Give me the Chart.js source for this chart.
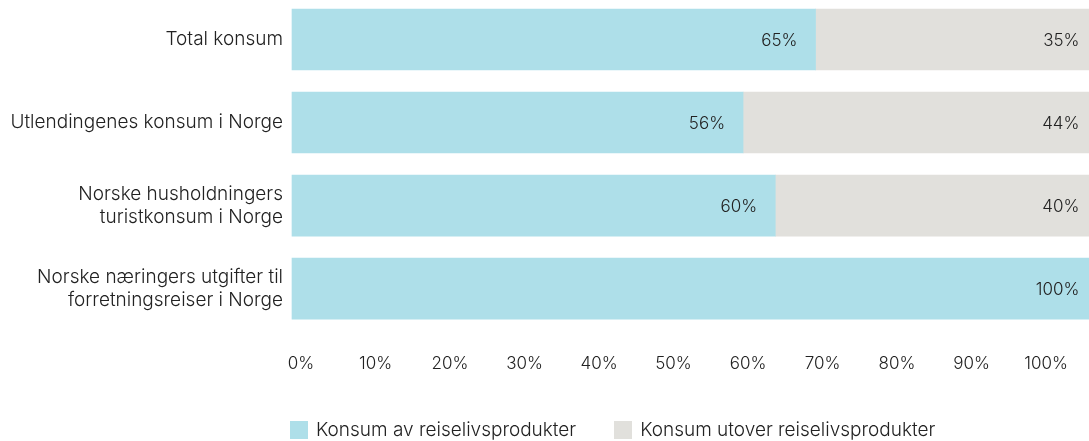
<!DOCTYPE html>
<html>
<head>
<meta charset="utf-8">
<script src="https://cdn.jsdelivr.net/npm/chart.js@4.4.1/dist/chart.umd.min.js"></script>
<style>
  html, body { margin: 0; padding: 0; background: #fff; }
  #wrap { position: relative; width: 1089px; height: 441px; }
  #legend { position: absolute; left: 290px; top: 420px; display: flex; font-family: Inter, sans-serif; font-weight: 300; font-size: 19px; line-height: 20px; color: #222; }
  .item { display: flex; align-items: center; margin-right: 38px; }
  .box { width: 18px; height: 18px; margin-right: 8px; }
</style>
</head>
<body>
<div id="wrap">
  <canvas id="chart" width="1089" height="441"></canvas>
  <div id="legend"></div>
</div>
<script>
const categories = [
    'Total konsum',
    'Utlendingenes konsum i Norge',
    ['Norske husholdningers', 'turistkonsum i Norge'],
    ['Norske næringers utgifter til', 'forretningsreiser i Norge']
];
const seriesNames = ['Konsum av reiselivsprodukter', 'Konsum utover reiselivsprodukter'];
const reiseliv = [65, 56, 60, 100];
const utover = [35, 44, 40, 0];
const tickValues = [0, 10, 20, 30, 40, 50, 60, 70, 80, 90, 100];
const tickLabels = ['0%', '10%', '20%', '30%', '40%', '50%', '60%', '70%', '80%', '90%', '100%'];

const colors = ['#aedfe9', '#e1e0dc'];
const fontFamily = 'Inter, sans-serif';

// percent labels inside the bars, right aligned near the segment end
const barLabels = {
    id: 'barLabels',
    afterDatasetsDraw(chart) {
        const ctx = chart.ctx;
        ctx.save();
        ctx.font = '300 17px ' + fontFamily;
        ctx.fillStyle = '#222';
        ctx.textAlign = 'right';
        ctx.textBaseline = 'middle';
        chart.data.datasets.forEach((ds, i) => {
            chart.getDatasetMeta(i).data.forEach((el, j) => {
                if (ds.data[j] > 0) ctx.fillText(ds.data[j] + '%', el.x - 18, el.y + 1);
            });
        });
        ctx.restore();
    }
};

const chart = new Chart(document.getElementById('chart'), {
    type: 'bar',
    data: {
        labels: categories,
        datasets: [
            { label: seriesNames[0], data: reiseliv, backgroundColor: colors[0], barThickness: 61, clip: false },
            { label: seriesNames[1], data: utover, backgroundColor: colors[1], barThickness: 61, clip: false }
        ]
    },
    options: {
        indexAxis: 'y',
        responsive: false,
        animation: false,
        layout: { padding: { top: 39.5, bottom: 64, right: 0, left: 0 } },
        plugins: {
            legend: { display: false },
            tooltip: { enabled: false }
        },
        scales: {
            x: {
                stacked: true,
                display: false,
                min: 0,
                max: 98.95
            },
            xt: {
                type: 'linear',
                position: 'bottom',
                min: -1.21,
                max: 105.77,
                afterBuildTicks: scale => { scale.ticks = tickValues.map(v => ({ value: v })); },
                grid: { display: true, drawOnChartArea: false, drawTicks: true, tickLength: 62, color: 'transparent' },
                border: { display: false },
                ticks: {
                    padding: 3,
                    color: '#222',
                    font: { family: fontFamily, size: 17, weight: 300 },
                    callback: (v, i) => tickLabels[i]
                }
            },
            y: {
                stacked: true,
                offset: false,
                afterFit: scale => { scale.width = 292; },
                grid: { display: false, drawTicks: false },
                border: { display: false },
                ticks: {
                    padding: 9,
                    color: '#222',
                    font: { family: fontFamily, size: 19, weight: 300, lineHeight: 1.2 }
                }
            }
        }
    },
    plugins: [barLabels]
});

const legend = document.getElementById('legend');
chart.data.datasets.forEach(ds => {
    const item = document.createElement('div');
    item.className = 'item';
    item.innerHTML = '<span class="box" style="background:' + ds.backgroundColor + '"></span>' + ds.label;
    legend.appendChild(item);
});
</script>
</body>
</html>
